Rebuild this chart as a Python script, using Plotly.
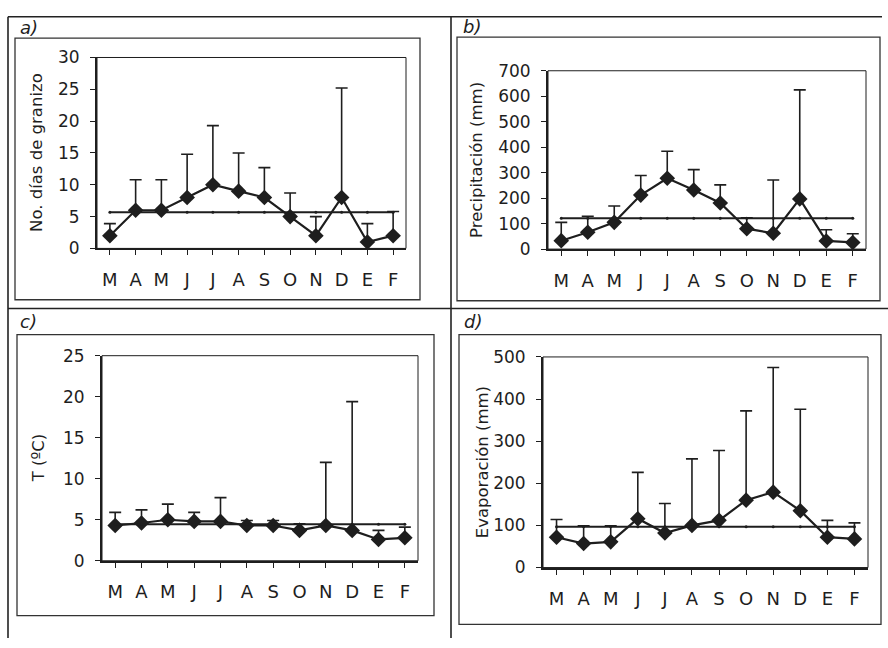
import plotly.graph_objects as go

# Monthly climatology (hydrological year March–February): mean, upper bound and annual mean
months = ["M", "A", "M", "J", "J", "A", "S", "O", "N", "D", "E", "F"]

granizo = [2, 6, 6, 8, 10, 9, 8, 5, 2, 8, 1, 2]
granizo_max = [3.9, 10.8, 10.8, 14.8, 19.3, 15.0, 12.7, 8.7, 5.0, 25.2, 3.9, 5.8]
granizo_media = 5.7

precip = [33, 66, 105, 212, 278, 232, 181, 80, 62, 197, 32, 26]
precip_max = [105, 129, 169, 289, 384, 312, 252, 123, 271, 625, 76, 60]
precip_media = 121

temp = [4.3, 4.6, 5.0, 4.8, 4.8, 4.3, 4.3, 3.7, 4.3, 3.7, 2.6, 2.8]
temp_max = [5.9, 6.2, 6.9, 5.9, 7.7, 4.9, 4.9, 4.5, 12.0, 19.4, 3.7, 4.1]
temp_media = 4.45

evap = [72, 57, 61, 116, 82, 100, 112, 160, 179, 135, 72, 68]
evap_max = [114, 99, 99, 226, 152, 258, 278, 372, 475, 376, 112, 106]
evap_media = 97

W, H = 888, 648
INK = "#1e1e1e"
FONT = "DejaVu Sans"

panels = [
    # key, values, upper, mean, y title, y range, dtick, plot box (px: left, top, right, bottom)
    ("a", granizo, granizo_max, granizo_media, "No. días de granizo", 30, 5, (97, 49, 406, 246)),
    ("b", precip, precip_max, precip_media, "Precipitación (mm)", 700, 100, (548, 62.7, 866, 246.7)),
    ("c", temp, temp_max, temp_media, "T (ºC)", 25, 5, (102, 356.7, 418, 568.3)),
    ("d", evap, evap_max, evap_media, "Evaporación (mm)", 500, 100, (543, 358, 868, 575.3)),
]

# Chart-area frames and label positions (px)
frames = {"a": (15, 29, 420, 299), "b": (457, 28, 880, 300),
          "c": (17, 335, 434, 625), "d": (459, 335, 881, 634)}
label_pos = {"a": (18, 31), "b": (461, 30), "c": (18, 334), "d": (462, 334)}
title_x = {"a": 37, "b": 477, "c": 38, "d": 482}

fig = go.Figure()
shapes = []
annotations = []
layout = {}


def px(x):
    return x / W


def py(y):
    return 1 - y / H


for i, (key, vals, upper, mean, ytitle, ymax, dt, box) in enumerate(panels):
    n = "" if i == 0 else str(i + 1)
    xa, ya = "x" + n, "y" + n
    l, t, r, b = box

    err = [u - v for u, v in zip(upper, vals)]
    fig.add_trace(go.Scatter(
        x=list(range(len(months))), y=vals, xaxis=xa, yaxis=ya, mode="lines+markers",
        line=dict(color=INK, width=2.2),
        marker=dict(symbol="diamond", size=12, color=INK),
        error_y=dict(type="data", array=err, arrayminus=[0] * len(err), symmetric=False,
                     color=INK, thickness=1.6, width=6),
        showlegend=False, hoverinfo="skip"))
    fig.add_trace(go.Scatter(
        x=list(range(len(months))), y=[mean] * len(months), xaxis=xa, yaxis=ya,
        mode="lines+markers", line=dict(color=INK, width=2),
        marker=dict(symbol="circle", size=3, color=INK),
        showlegend=False, hoverinfo="skip"))

    layout["xaxis" + n] = dict(
        domain=[px(l), px(r)], anchor=ya, range=[-0.5, 11.5],
        tickmode="array", tickvals=list(range(12)), ticktext=months,
        showgrid=False, zeroline=False, showline=True, linecolor=INK, linewidth=2,
        ticks="outside", ticklen=5, tickwidth=1.2, tickcolor=INK,
        ticklabelstandoff=9,
        tickfont=dict(family=FONT, size=18, color=INK), fixedrange=True)
    layout["yaxis" + n] = dict(
        domain=[py(b), py(t)], anchor=xa, range=[0, ymax], dtick=dt,
        showgrid=False, zeroline=False, showline=True, linecolor=INK, linewidth=2,
        ticks="outside", ticklen=5, tickwidth=1.2, tickcolor=INK,
        ticklabelstandoff=7,
        tickfont=dict(family=FONT, size=17, color=INK), fixedrange=True)

    # thin border around the plotting area
    shapes.append(dict(type="rect", xref="paper", yref="paper",
                       x0=px(l), x1=px(r), y0=py(b), y1=py(t),
                       line=dict(color=INK, width=1), layer="below"))
    # chart-area frame
    fl, ft, fr, fb = frames[key]
    shapes.append(dict(type="rect", xref="paper", yref="paper",
                       x0=px(fl), x1=px(fr), y0=py(fb), y1=py(ft),
                       line=dict(color="#333333", width=1.3), layer="below"))
    # y axis title
    annotations.append(dict(text=ytitle, xref="paper", yref="paper",
                            x=px(title_x[key]), y=py((t + b) / 2), textangle=-90,
                            showarrow=False, xanchor="center", yanchor="middle",
                            font=dict(family=FONT, size=16.5, color=INK)))
    # panel letter
    lx, ly = label_pos[key]
    annotations.append(dict(text="<i>%s)</i>" % key, xref="paper", yref="paper",
                            x=px(lx), y=py(ly), showarrow=False,
                            xanchor="left", yanchor="bottom",
                            font=dict(family=FONT, size=18, color=INK)))

# outer page rules
for x0, y0, x1, y1 in [(8, 7, 882, 7), (8, 7, 8, 648), (451, 7, 451, 648), (8, 308, 888, 308)]:
    shapes.append(dict(type="line", xref="paper", yref="paper",
                       x0=px(x0), y0=py(y0), x1=px(x1), y1=py(y1),
                       line=dict(color="#222222", width=1.6), layer="below"))

fig.update_layout(
    width=W, height=H, margin=dict(l=0, r=0, t=0, b=0),
    paper_bgcolor="white", plot_bgcolor="rgba(0,0,0,0)",
    shapes=shapes, annotations=annotations, **layout)

fig.write_html("out.html", config={"displayModeBar": False})
